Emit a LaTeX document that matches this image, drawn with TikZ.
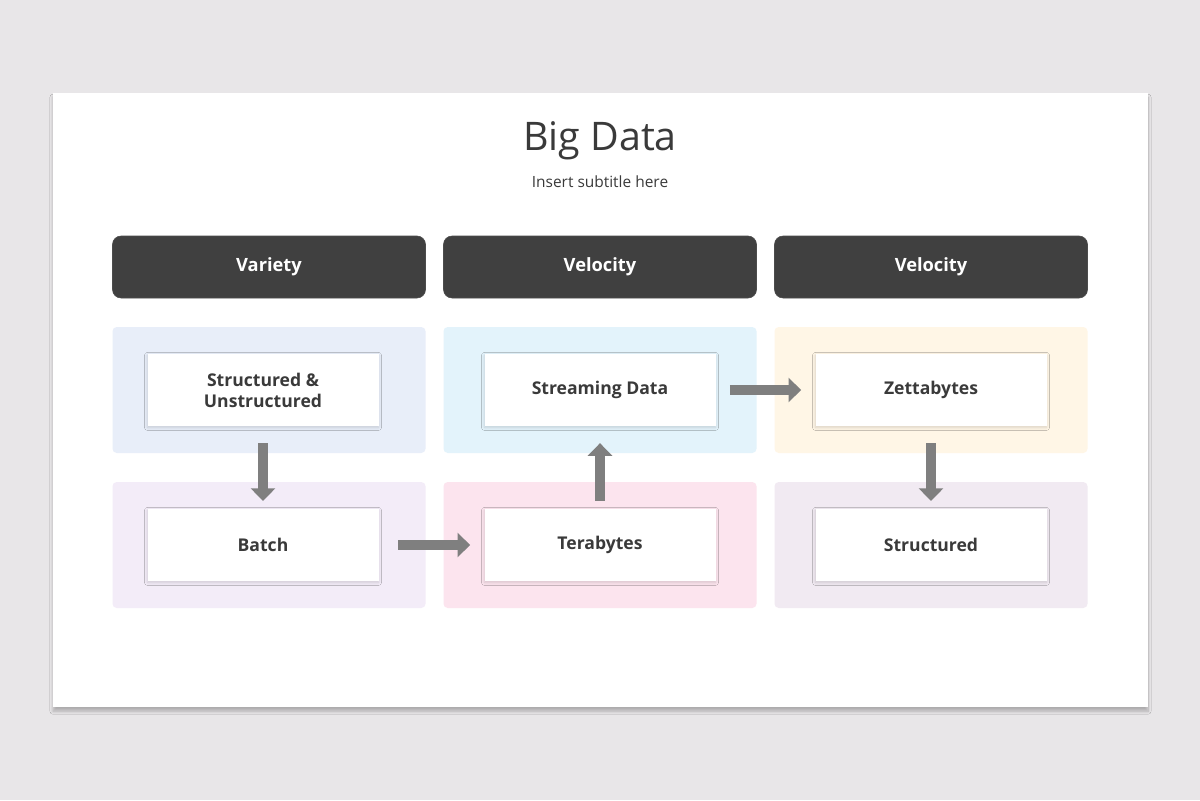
\documentclass[tikz,border=0pt]{standalone}
\usepackage{fontspec}
\setmainfont{Open Sans}
\usetikzlibrary{positioning,arrows.meta,shadows.blur}
\definecolor{pageBg}{HTML}{E8E6E8}
\definecolor{headDark}{HTML}{404040}
\definecolor{arrGray}{HTML}{7F7F7F}
\definecolor{txtDark}{HTML}{3A3A3A}
\definecolor{pBlue}{HTML}{E8EEF9}
\definecolor{pCyan}{HTML}{E3F3FB}
\definecolor{pSand}{HTML}{FFF6E6}
\definecolor{pLilac}{HTML}{F3ECF8}
\definecolor{pPink}{HTML}{FCE4EE}
\definecolor{pMauve}{HTML}{F1EAF2}
\tikzset{
  Head/.style={fill=headDark,rounded corners=6pt,draw=black!70,text=white,
    minimum width=313*0.025cm,minimum height=62*0.025cm,font=\fontsize{13}{15}\selectfont\bfseries},
  Panel/.style={fill=#1,rounded corners=3pt,minimum width=313*0.025cm,minimum height=126*0.025cm},
  Card/.style={fill=white,blur shadow={shadow blur steps=6,shadow xshift=0pt,shadow yshift=-1pt,shadow opacity=15},
    minimum width=231*0.025cm,minimum height=72*0.025cm,align=center,text=txtDark,
    font=\fontsize{12.5}{15}\selectfont\bfseries},
  Flow/.style={draw=arrGray,line width=7pt,-{Triangle[length=9pt,width=17pt]},
    shorten <=12pt,shorten >=5.5pt}
}
\begin{document}
\begin{tikzpicture}[x=0.025cm,y=-0.025cm]
  \fill[pageBg] (0,0) rectangle (1200,800);
  \fill[white,blur shadow={shadow blur steps=10,shadow xshift=0pt,shadow yshift=-3pt,shadow opacity=25}] (53,93) rectangle (1148,707);
  % Title
  \node[text=txtDark,font=\fontsize{28}{32}\selectfont] (title) at (600,141) {Big Data};
  \node[text=txtDark,font=\fontsize{11}{13}\selectfont] (subtitle) at (600,182) {Insert subtitle here};
  % Headers
  \node[Head] (h1) at (269,267) {Variety};
  \node[Head] (h2) at (600,267) {Velocity};
  \node[Head] (h3) at (931,267) {Velocity};
  % Panels
  \node[Panel=pBlue] (p1) at (269,390) {};
  \node[Panel=pCyan] (p2) at (600,390) {};
  \node[Panel=pSand] (p3) at (931,390) {};
  \node[Panel=pLilac] (p4) at (269,545) {};
  \node[Panel=pPink] (p5) at (600,545) {};
  \node[Panel=pMauve] (p6) at (931,545) {};
  % Cards
  \node[Card] (struct) at (263,390) {Structured \&\\Unstructured};
  \node[Card] (stream) at (600,390) {Streaming Data};
  \node[Card] (zetta) at (931,390) {Zettabytes};
  \node[Card] (batch) at (263,545) {Batch};
  \node[Card] (tera) at (600,545) {Terabytes};
  \node[Card] (structd) at (931,545) {Structured};
  % Flow
  \draw[Flow] (struct) -- (batch);
  \draw[Flow,shorten <=14pt,shorten >=10pt] (batch) -- (tera);
  \draw[Flow,shorten <=5.5pt,shorten >=12pt] (tera) -- (stream);
  \draw[Flow,shorten <=10pt,shorten >=10pt] (stream) -- (zetta);
  \draw[Flow] (zetta) -- (structd);
\end{tikzpicture}
\end{document}
